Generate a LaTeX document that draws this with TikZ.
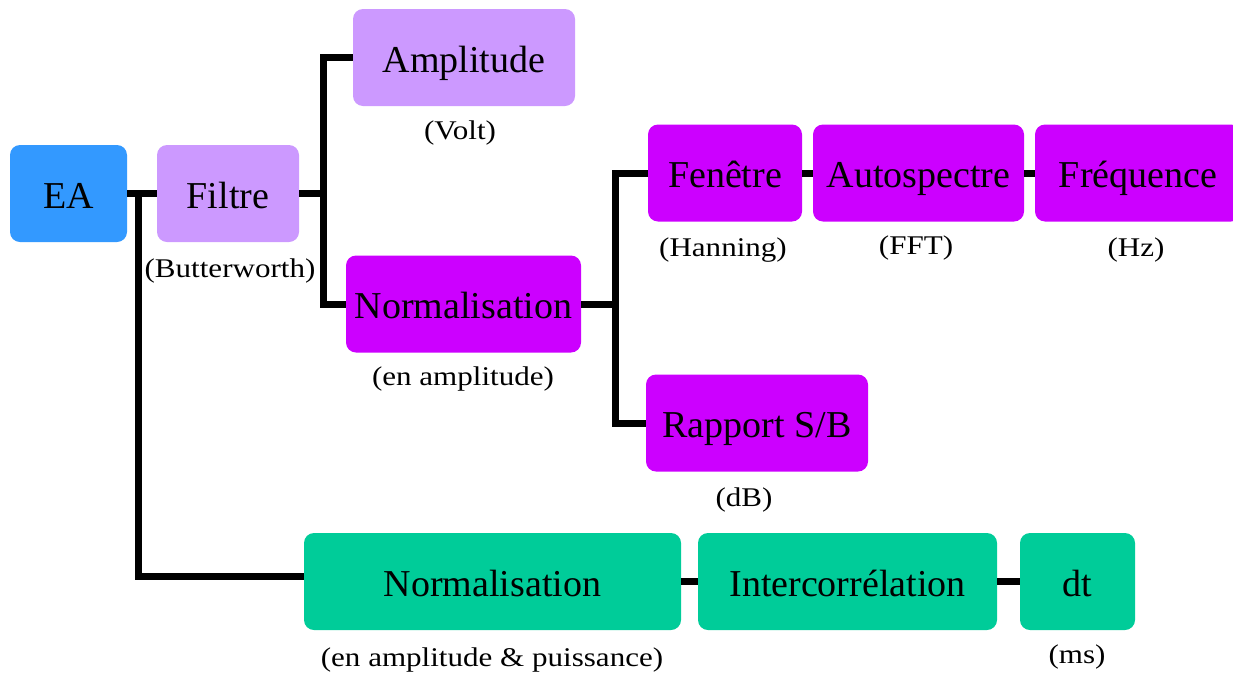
\documentclass[tikz,border=0pt]{standalone}
\usepackage{fontspec}
\setmainfont{Liberation Serif}
\newfontfamily\lblfont[FakeStretch=1.15]{Liberation Serif}
\usepackage{tikz}
\definecolor{eablue}{HTML}{3399FF}
\definecolor{lilac}{HTML}{CC99FF}
\definecolor{magenta}{HTML}{CC00FF}
\definecolor{mint}{HTML}{00CC99}

\begin{document}
\begin{tikzpicture}[x=1pt, y=-1pt,
        block/.style={rounded corners=10pt, inner sep=0pt, minimum height=97pt,
            text height=29pt, text depth=0pt,
            font=\fontsize{38}{40}\selectfont},
        unit/.style={inner sep=0pt, font=\lblfont\fontsize{27}{29}\selectfont},
        link/.style={line width=7pt}]
        \useasboundingbox (0,0) rectangle (1233,675);
        % blocks
        \node[block, fill=eablue, minimum width=117pt] (ea) at (68.5,193.5) {EA};
        \node[block, fill=lilac, minimum width=142pt] (filtre) at (228,193.5) {Filtre};
        \node[block, fill=lilac, minimum width=222pt] (amp) at (464,57.5) {Amplitude};
        \node[block, fill=magenta, minimum width=235pt] (norma) at (463.5,304) {Normalisation};
        \node[block, fill=magenta, minimum width=154pt] (fen) at (725,173) {Fenêtre};
        \node[block, fill=magenta, minimum width=211pt] (auto) at (918.5,173) {Autospectre};
        \node[block, fill=magenta, minimum width=206pt] (freq) at (1138,173) {Fréquence};
        \node[block, fill=magenta, minimum width=222pt] (rap) at (757,423) {Rapport S/B};
        \node[block, fill=mint, minimum width=377pt] (normg) at (492.5,581.5) {Normalisation};
        \node[block, fill=mint, minimum width=299pt] (inter) at (847.5,581.5) {Intercorrélation};
        \node[block, fill=mint, minimum width=115pt] (dt) at (1077.5,581.5) {dt};
        % units
        \node[unit] (volt) at (460,133) {(Volt)};
        \node[unit] (butter) at (230,271) {(Butterworth)};
        \node[unit] (enamp) at (463,379) {(en amplitude)};
        \node[unit] (hann) at (723,250) {(Hanning)};
        \node[unit] (fft) at (916,248) {(FFT)};
        \node[unit] (hz) at (1136,250) {(Hz)};
        \node[unit] (db) at (744,500) {(dB)};
        \node[unit] (puiss) at (492,660) {(en amplitude \& puissance)};
        \node[unit] (ms) at (1077,657) {(ms)};
        % links
        \coordinate (je) at (138,193.5);
        \coordinate (jf) at (323,193.5);
        \coordinate (jn) at (615,304);
        \draw[link] (ea) -- (filtre);
        \draw[link] (je) |- ([yshift=5pt]normg.west);
        \draw[link] (filtre) -- (jf);
        \draw[link] (amp.west) -| (jf) |- (norma.west);
        \draw[link] (norma) -- (jn);
        \draw[link] (fen.west) -| (jn) |- (rap.west);
        \draw[link] (fen) -- (auto);
        \draw[link] (auto) -- (freq);
        \draw[link] (normg) -- (inter);
        \draw[link] (inter) -- (dt);
\end{tikzpicture}
\end{document}
